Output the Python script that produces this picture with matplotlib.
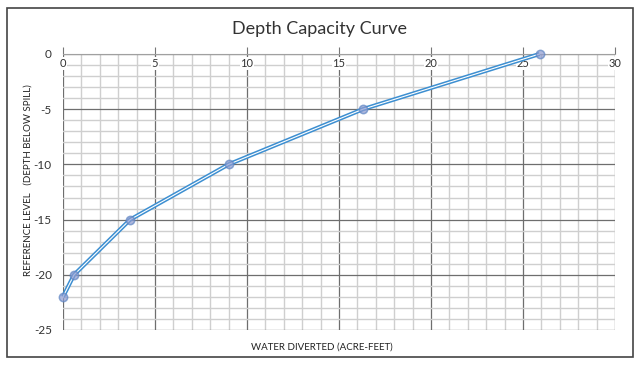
import matplotlib
matplotlib.use("Agg")
import matplotlib.pyplot as plt
from matplotlib.patches import Rectangle
from matplotlib.ticker import MultipleLocator

plt.rcParams['font.family'] = ['Lato', 'DejaVu Sans']

# data
water = [0.0, 0.6, 3.65, 9.0, 16.3, 25.9]
depth = [-22, -20, -15, -10, -5, 0]
xticks = [0, 5, 10, 15, 20, 25, 30]
yticks = [0, -5, -10, -15, -20, -25]

fig = plt.figure(figsize=(6.4, 3.65), dpi=100)
W, H = 640, 365
ax = fig.add_axes([63 / W, 1 - 330 / H, (615 - 63) / W, (330 - 54) / H])

# outer chart border
fig.patches.append(Rectangle((7 / W, 1 - 357 / H), (633 - 7) / W, (357 - 8) / H,
                             transform=fig.transFigure, fill=False,
                             edgecolor='#444444', linewidth=1.2))

ax.set_xlim(0, 30)
ax.set_ylim(-25, 0)
ax.xaxis.set_major_locator(MultipleLocator(5))
ax.xaxis.set_minor_locator(MultipleLocator(1))
ax.yaxis.set_major_locator(MultipleLocator(5))
ax.yaxis.set_minor_locator(MultipleLocator(1))
ax.grid(which='minor', color='#cfcfcf', linewidth=1.0)
ax.grid(which='major', color='#6e6e6e', linewidth=0.9)
ax.set_axisbelow(True)
for s in ['left', 'right', 'bottom']:
    ax.spines[s].set_visible(False)
ax.spines['top'].set_color('#a0a0a0')

# x axis sits at depth 0, labels just under it
ax.xaxis.tick_top()
ax.tick_params(axis='x', which='major', direction='out', length=5, color='#777777',
               labeltop=False, labelbottom=False)
ax.tick_params(axis='x', which='minor', length=0)
ax.tick_params(axis='y', which='both', length=0, labelsize=8.5, colors='#333333', pad=8)
ax.set_yticks(yticks)
ax.set_yticklabels([str(v) for v in yticks])
for v in xticks:
    ax.text(v, -0.35, str(v), ha='center', va='top', fontsize=8, color='#333333',
            bbox=dict(facecolor='white', edgecolor='none', pad=0.5))

# double line: thick blue with thin white core
ax.plot(water, depth, color='#3d8fd1', linewidth=3.0, solid_capstyle='butt', zorder=3,
        clip_on=False)
ax.plot(water, depth, color='white', linewidth=0.8, zorder=4, clip_on=False)
ax.plot(water, depth, linestyle='none', marker='o', markersize=6,
        markerfacecolor='#8e9bd0', markeredgecolor='#5f86c4', markeredgewidth=1.1,
        alpha=0.7, zorder=5, clip_on=False)

fig.text(320 / W, 1 - 29 / H, 'Depth Capacity Curve', ha='center', va='center',
         fontsize=13, color='#333333')
fig.text(322 / W, 1 - 347 / H, 'WATER DIVERTED (ACRE-FEET)', ha='center', va='center',
         fontsize=7, color='#222222')
fig.text(28 / W, 1 - 180 / H, 'REFERENCE LEVEL   (DEPTH BELOW SPILL)', ha='center',
         va='center', rotation=90, fontsize=7, color='#222222')

fig.savefig('out.png', dpi=100)
